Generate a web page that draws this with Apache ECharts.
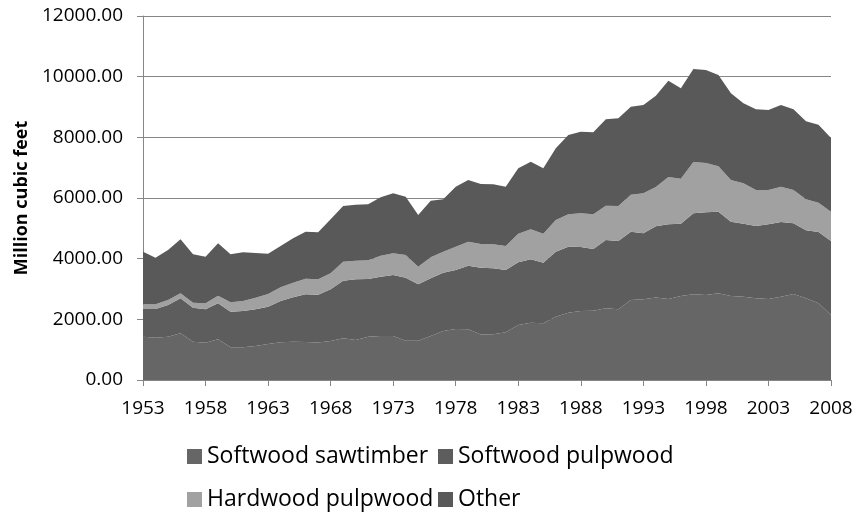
<!DOCTYPE html>
<html>
<head>
<meta charset="utf-8">
<script src="https://cdn.jsdelivr.net/npm/echarts@6/dist/echarts.min.js"></script>
<style>
html,body{margin:0;padding:0;background:#fff;}
#chart{width:859px;height:514px;}
</style>
</head>
<body>
<div id="chart"></div>
<script>
const years = [];
for (let y = 1953; y <= 2008; y++) years.push(String(y));

const seriesNames = ['Softwood sawtimber', 'Softwood pulpwood', 'Hardwood pulpwood', 'Other'];

const softwoodSawtimber = [1429,1396,1429,1539,1264,1231,1341,1077,1077,1121,1187,1242,1264,1253,1237,1286,1374,1319,1429,1451,1451,1297,1297,1451,1616,1682,1671,1500,1506,1572,1813,1890,1868,2088,2220,2275,2286,2363,2330,2638,2660,2720,2671,2770,2824,2802,2857,2770,2747,2693,2671,2747,2835,2693,2528,2143];

const softwoodPulpwood = [912,945,1044,1154,1121,1099,1187,1176,1198,1209,1231,1363,1461,1571,1576,1703,1901,2000,1901,1956,2011,2077,1857,1901,1923,1945,2099,2204,2176,2055,2067,2088,2000,2143,2176,2110,2033,2253,2253,2252,2176,2346,2461,2384,2671,2725,2692,2450,2407,2384,2461,2462,2330,2241,2351,2440];

const hardwoodPulpwood = [154,154,165,165,165,198,252,308,330,384,417,450,484,517,506,528,626,615,615,692,714,747,582,692,692,769,790,780,791,791,945,989,957,1044,1065,1110,1142,1131,1153,1220,1318,1297,1560,1483,1692,1627,1495,1374,1330,1187,1132,1165,1099,1022,967,966];

const other = [1735,1538,1648,1780,1593,1538,1726,1582,1604,1473,1330,1363,1462,1549,1550,1780,1836,1846,1846,1923,1978,1923,1704,1868,1725,1978,2034,1978,1978,1956,2154,2231,2154,2363,2616,2692,2704,2847,2891,2901,2912,3007,3176,2979,3066,3066,3011,2857,2637,2660,2638,2692,2660,2572,2572,2430];

const yTicks = [0, 2000, 4000, 6000, 8000, 10000, 12000];

const colors = ['#666666', '#5d5d5d', '#a1a1a1', '#595959'];
const values = [softwoodSawtimber, softwoodPulpwood, hardwoodPulpwood, other];

const font = 'Open Sans';
const chart = echarts.init(document.getElementById('chart'));

function legendFor(name, left, top) {
  return {
    data: [name],
    left: left, top: top,
    icon: 'rect', itemWidth: 15, itemHeight: 15, itemGap: 6,
    textStyle: { fontFamily: font, fontSize: 23, color: '#000' },
    selectedMode: false
  };
}

chart.setOption({
  animation: false,
  color: colors,
  grid: { left: 143, right: 28, top: 16, height: 364, containLabel: false },
  legend: [
    legendFor(seriesNames[0], 182, 440),
    legendFor(seriesNames[1], 433, 440),
    legendFor(seriesNames[2], 182, 483),
    legendFor(seriesNames[3], 433, 483)
  ],
  xAxis: {
    type: 'category',
    data: years,
    boundaryGap: false,
    axisLine: { lineStyle: { color: '#868686', width: 1 } },
    axisTick: { interval: 4, length: 6, lineStyle: { color: '#868686' } },
    axisLabel: { interval: 4, fontFamily: font, fontSize: 19, color: '#000', margin: 19 },
    splitLine: { show: false }
  },
  yAxis: {
    type: 'value',
    min: yTicks[0], max: yTicks[yTicks.length - 1], interval: 2000,
    name: 'Million cubic feet',
    nameLocation: 'middle',
    nameGap: 108,
    nameRotate: 90,
    nameTextStyle: { fontFamily: font, fontSize: 18, fontWeight: 'bold', color: '#000' },
    axisLine: { show: true, lineStyle: { color: '#868686', width: 1 } },
    axisTick: { show: true, length: 6, lineStyle: { color: '#868686' } },
    axisLabel: { fontFamily: font, fontSize: 19, color: '#000', margin: 20, formatter: v => v.toFixed(2) },
    splitLine: { show: true, lineStyle: { color: '#868686', width: 1 } }
  },
  series: seriesNames.map((n, i) => ({
    name: n,
    type: 'line',
    stack: 'total',
    data: values[i],
    symbol: 'none',
    showSymbol: false,
    lineStyle: { width: 0 },
    areaStyle: { color: colors[i], opacity: 1 },
    itemStyle: { color: colors[i] },
    emphasis: { disabled: true }
  }))
});
</script>
</body>
</html>
